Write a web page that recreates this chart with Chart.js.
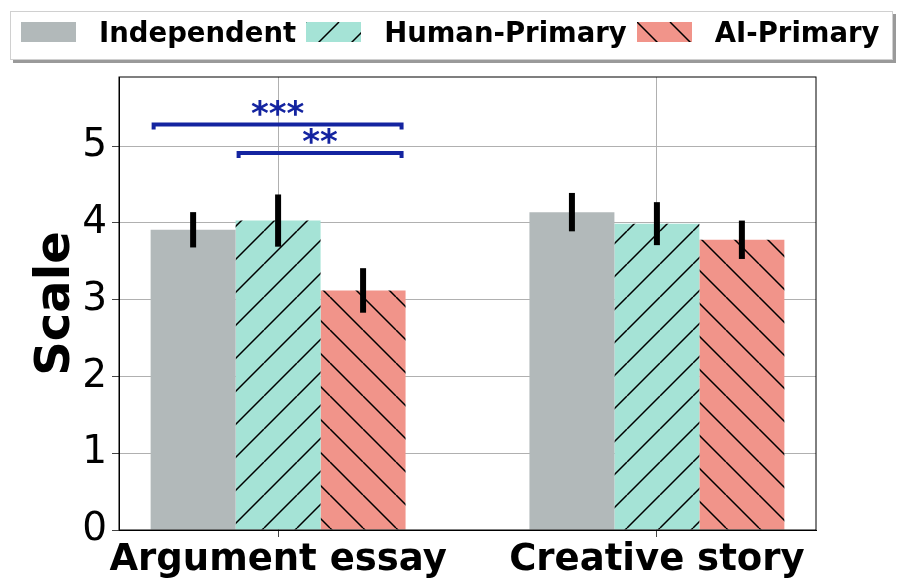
<!DOCTYPE html>
<html>
<head>
<meta charset="utf-8">
<script src="https://cdn.jsdelivr.net/npm/chart.js@4.4.1/dist/chart.umd.min.js"></script>
<style>
  html, body { margin: 0; padding: 0; background: #fff; }
  #wrap { position: relative; width: 903px; height: 586px; }
  #legend {
    position: absolute; left: 10px; top: 11px; width: 883px; height: 49px;
    box-sizing: border-box; border: 1px solid #d0d0d0; background: #fff;
    box-shadow: 3px 3px 0 #9a9a9a;
    display: flex; align-items: flex-start; padding: 4px 0 0 10px;
    font-family: "DejaVu Sans"; font-weight: bold; font-size: 27.5px; color: #000;
  }
  .item { display: flex; align-items: baseline; }
  .item canvas { width: 55px; height: 20px; margin-right: 23px; }
  .item span { margin-right: 10px; }
</style>
</head>
<body>
<div id="wrap">
  <canvas id="chart" width="903" height="586"></canvas>
  <div id="legend"></div>
</div>
<script>
const categories = ["Argument essay", "Creative story"];
const seriesNames = ["Independent", "Human-Primary", "AI-Primary"];
const independent = [3.91, 4.14];
const humanPrimary = [4.03, 3.99];
const aiPrimary = [3.12, 3.78];
const independentErr = [0.23, 0.25];
const humanPrimaryErr = [0.34, 0.28];
const aiPrimaryErr = [0.29, 0.25];
const yTicks = [0, 1, 2, 3, 4, 5];

// significance brackets: which category, from which series to which series, height, stars
const sigCategory = [0, 0];
const sigFrom = [0, 1];
const sigTo = [2, 2];
const sigHeight = [5.28, 4.91];
const sigLabel = ["***", "**"];

const values = [independent, humanPrimary, aiPrimary];
const errors = [independentErr, humanPrimaryErr, aiPrimaryErr];
const colors = ["#b2b9ba", "#a5e3d6", "#f1948a"];
const hatches = ["", "/", "\\"];

function hatch(color, dir, size) {
  const c = document.createElement("canvas");
  c.width = size; c.height = size;
  const g = c.getContext("2d");
  g.fillStyle = color;
  g.fillRect(0, 0, size, size);
  if (dir) {
    g.strokeStyle = "#000";
    g.lineWidth = 1.5;
    g.beginPath();
    for (const o of [-size, 0, size]) {
      if (dir === "/") { g.moveTo(o, size); g.lineTo(o + size, 0); }
      else { g.moveTo(o, 0); g.lineTo(o + size, size); }
    }
    g.stroke();
  }
  return g.createPattern(c, "repeat");
}

const fills = colors.map((c, i) => hatch(c, hatches[i], 33));

// legend
const legend = document.getElementById("legend");
seriesNames.forEach((name, i) => {
  const item = document.createElement("div");
  item.className = "item";
  const sw = document.createElement("canvas");
  sw.width = 55; sw.height = 20;
  const g = sw.getContext("2d");
  g.fillStyle = hatch(colors[i], hatches[i], 33);
  g.fillRect(0, 0, 55, 20);
  const label = document.createElement("span");
  label.textContent = name;
  item.appendChild(sw);
  item.appendChild(label);
  legend.appendChild(item);
});

const overlay = {
  id: "overlay",
  afterDraw(chart) {
    const { ctx, chartArea: a, scales: { y } } = chart;
    ctx.save();
    ctx.strokeStyle = "#000";
    ctx.lineWidth = 1;
    ctx.strokeRect(a.left, a.top, a.right - a.left, a.bottom - a.top);

    // error bars
    ctx.lineWidth = 6;
    chart.data.datasets.forEach((ds, i) => {
      chart.getDatasetMeta(i).data.forEach((bar, j) => {
        const v = values[i][j], e = errors[i][j];
        ctx.beginPath();
        ctx.moveTo(bar.x, y.getPixelForValue(v + e));
        ctx.lineTo(bar.x, y.getPixelForValue(v - e));
        ctx.stroke();
      });
    });

    // significance brackets
    ctx.strokeStyle = "#1424a0";
    ctx.fillStyle = "#1424a0";
    ctx.lineWidth = 4;
    ctx.font = 'bold 34px "DejaVu Sans"';
    ctx.textAlign = "center";
    ctx.textBaseline = "alphabetic";
    sigLabel.forEach((lab, k) => {
      const b1 = chart.getDatasetMeta(sigFrom[k]).data[sigCategory[k]];
      const b2 = chart.getDatasetMeta(sigTo[k]).data[sigCategory[k]];
      const x1 = b1.x - b1.width / 2 + 3;
      const x2 = b2.x + b2.width / 2 - 4;
      const yy = y.getPixelForValue(sigHeight[k]);
      ctx.beginPath();
      ctx.moveTo(x1, yy + 5);
      ctx.lineTo(x1, yy);
      ctx.lineTo(x2, yy);
      ctx.lineTo(x2, yy + 5);
      ctx.stroke();
      ctx.fillText(lab, (x1 + x2) / 2, yy);
    });
    ctx.restore();
  }
};

const gridStyle = { color: "#b0b0b0", lineWidth: 1, tickLength: 7, tickColor: "#444", offset: false };

new Chart(document.getElementById("chart"), {
  type: "bar",
  data: {
    datasets: seriesNames.map((name, i) => ({
      label: name,
      data: categories.map((c, j) => ({ x: j, y: values[i][j] })),
      backgroundColor: fills[i],
      borderWidth: 0,
      categoryPercentage: 0.673,
      barPercentage: 1
    }))
  },
  options: {
    responsive: false,
    animation: false,
    layout: { padding: { top: 77, right: 87, left: 0, bottom: 0 } },
    plugins: { legend: { display: false }, tooltip: { enabled: false } },
    scales: {
      x: {
        type: "linear", min: -0.42, max: 1.42, z: 1,
        offset: false, bounds: "data",
        afterBuildTicks: s => { s.ticks = categories.map((c, j) => ({ value: j })); },
        afterFit: s => { s.height = 56; },
        grid: gridStyle,
        border: { color: "#000", width: 1 },
        ticks: {
          callback: v => categories[v],
          font: { family: "DejaVu Sans", size: 37, weight: "bold" },
          color: "#000", padding: 1, maxRotation: 0, autoSkip: false
        }
      },
      y: {
        min: 0, max: 5.9, z: 1,
        afterBuildTicks: s => { s.ticks = yTicks.map(v => ({ value: v })); },
        afterFit: s => { s.width = 119; },
        grid: gridStyle,
        border: { color: "#000", width: 1 },
        ticks: { font: { family: "DejaVu Sans", size: 39 }, color: "#000", padding: 5 },
        title: {
          display: true, text: "Scale", color: "#000",
          font: { family: "DejaVu Sans", size: 48, weight: "bold", lineHeight: 1.2 },
          padding: { top: 28, bottom: 0 }
        }
      }
    }
  },
  plugins: [overlay]
});
</script>
</body>
</html>
